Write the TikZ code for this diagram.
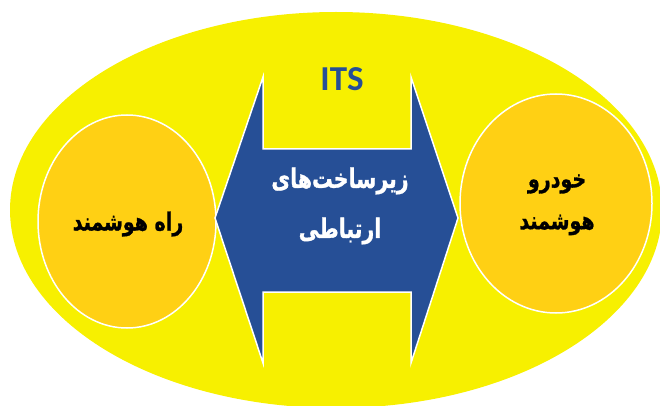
\documentclass[tikz,border=0pt]{standalone}
\usepackage{graphicx}
\usepackage{fontspec}
\setmainfont{Carlito}
\newfontfamily\arabicfont[Script=Arabic,BoldFeatures={FakeBold=1.2}]{DejaVu Sans}
\TeXXeTstate=1
\usetikzlibrary{shapes.geometric}
\definecolor{bgyellow}{RGB}{247,240,0}
\definecolor{circorange}{RGB}{255,208,20}
\definecolor{arrowblue}{RGB}{38,79,150}
\newcommand{\fatext}[1]{\scalebox{1}[1.3]{\beginR #1\endR}}
\tikzset{
  bubble/.style={ellipse, fill=circorange, draw=white, line width=1.5pt, inner sep=0pt},
  fa/.style={font=\arabicfont\bfseries\fontsize{19}{38}\selectfont, align=center},
  famid/.style={fa, font=\arabicfont\bfseries\fontsize{20.5}{38}\selectfont, text=white},
}
\begin{document}
\begin{tikzpicture}[x=1pt,y=-1pt]
\useasboundingbox (0,0) rectangle (660,406);
\clip (0,0) rectangle (660,406);
\node[ellipse, fill=bgyellow, minimum width=652pt, minimum height=396pt, inner sep=0pt] (bg) at (336,210) {};
\node[bubble, minimum width=178pt, minimum height=213pt] (road) at (127,221.5) {};
\node[bubble, minimum width=192pt, minimum height=219pt] (car) at (556,203.5) {};
\draw[fill=arrowblue, draw=white, line width=1.5pt, line join=miter]
  (215,218) -- (263,77) -- (263,149) -- (411,149) -- (411,77) -- (458,218)
  -- (411,363) -- (411,292) -- (263,292) -- (263,363) -- cycle;
\node[font=\bfseries\fontsize{35}{42}\selectfont, text=arrowblue] (its) at (342,79) {ITS};
\node[fa] (roadt) at (128,224) {\fatext{راه هوشمند}};
\node[fa] (cart1) at (557,184) {\fatext{خودرو}};
\node[fa] (cart2) at (557,225) {\fatext{هوشمند}};
\node[famid] (mid1) at (340,181) {\fatext{زیرساخت‌های}};
\node[famid] (mid2) at (340,231) {\fatext{ارتباطی}};
\end{tikzpicture}
\end{document}
